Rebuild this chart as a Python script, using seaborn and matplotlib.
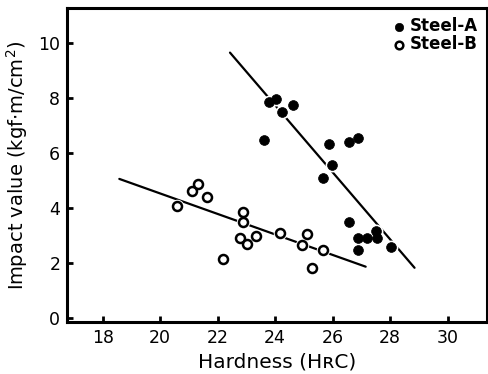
import matplotlib
matplotlib.use("Agg")
import matplotlib.pyplot as plt
import seaborn as sns
import pandas as pd

# Steel-A (filled circles)
a_hardness = [23.80, 24.03, 24.23, 24.63, 23.61, 25.86, 26.58, 26.89, 25.99, 25.67,
              26.56, 26.87, 27.19, 27.51, 27.55, 26.87, 28.02]
a_impact = [7.88, 7.97, 7.51, 7.76, 6.48, 6.34, 6.42, 6.55, 5.57, 5.11,
            3.51, 2.93, 2.94, 3.17, 2.94, 2.48, 2.60]

# Steel-B (open circles)
b_hardness = [20.57, 21.10, 21.30, 21.62, 22.89, 22.89, 22.78, 23.03, 23.33, 22.19,
              24.16, 24.94, 25.11, 25.65, 25.29]
b_impact = [4.10, 4.64, 4.88, 4.40, 3.85, 3.49, 2.94, 2.69, 3.00, 2.16,
            3.11, 2.65, 3.05, 2.48, 1.84]

# Trend lines (endpoints)
a_line_x = [22.43, 28.85]
a_line_y = [9.66, 1.84]
b_line_x = [18.58, 27.15]
b_line_y = [5.07, 1.88]

x_ticks = [18, 20, 22, 24, 26, 28, 30]
y_ticks = [0, 2, 4, 6, 8, 10]

sns.set_theme(style="ticks")
plt.rcParams['font.family'] = ['DejaVu Sans']
plt.rcParams['text.color'] = 'black'
plt.rcParams['axes.labelcolor'] = 'black'
plt.rcParams['xtick.color'] = 'black'
plt.rcParams['ytick.color'] = 'black'

fig = plt.figure(figsize=(4.89, 3.74), dpi=100)
ax = fig.add_axes([0.1376, 0.1398, 0.8577, 0.838])

sns.lineplot(x=a_line_x, y=a_line_y, ax=ax, color="black", lw=1.6, zorder=1)
sns.lineplot(x=b_line_x, y=b_line_y, ax=ax, color="black", lw=1.6, zorder=1)

# white halos to create gaps in the lines around the markers
ax.scatter(a_hardness, a_impact, s=100, color="white", zorder=2, linewidths=0)
ax.scatter(b_hardness, b_impact, s=95, color="white", zorder=2, linewidths=0)

sns.scatterplot(x=a_hardness, y=a_impact, ax=ax, marker="o", s=50,
                color="black", edgecolor="black", linewidth=0.5, zorder=3,
                label="Steel-A")
sns.scatterplot(x=b_hardness, y=b_impact, ax=ax, marker="o", s=42,
                facecolor="white", edgecolor="black", linewidth=1.8, zorder=3,
                label="Steel-B")

ax.set_xlim(16.77, 31.36)
ax.set_ylim(-0.12, 11.27)
ax.set_xticks(x_ticks)
ax.set_yticks(y_ticks)
ax.tick_params(direction="in", length=4, width=2, labelsize=12.5, pad=5,
               colors="black")
for sp in ax.spines.values():
    sp.set_linewidth(2.2)
    sp.set_color("black")

ax.set_xlabel("Hardness (HʀC)", fontsize=14.5, labelpad=4, color="black")
ax.set_ylabel(r"Impact value (kgf$\cdot$m/cm$^2$)", fontsize=14, labelpad=6,
              color="black")

leg = ax.legend(loc="upper right", frameon=False, handletextpad=0.2,
                labelspacing=0.0, borderaxespad=0.15, handlelength=0.9,
                markerscale=0.85, prop={"weight": "bold", "size": 12})

fig.savefig("out.png", dpi=100)
